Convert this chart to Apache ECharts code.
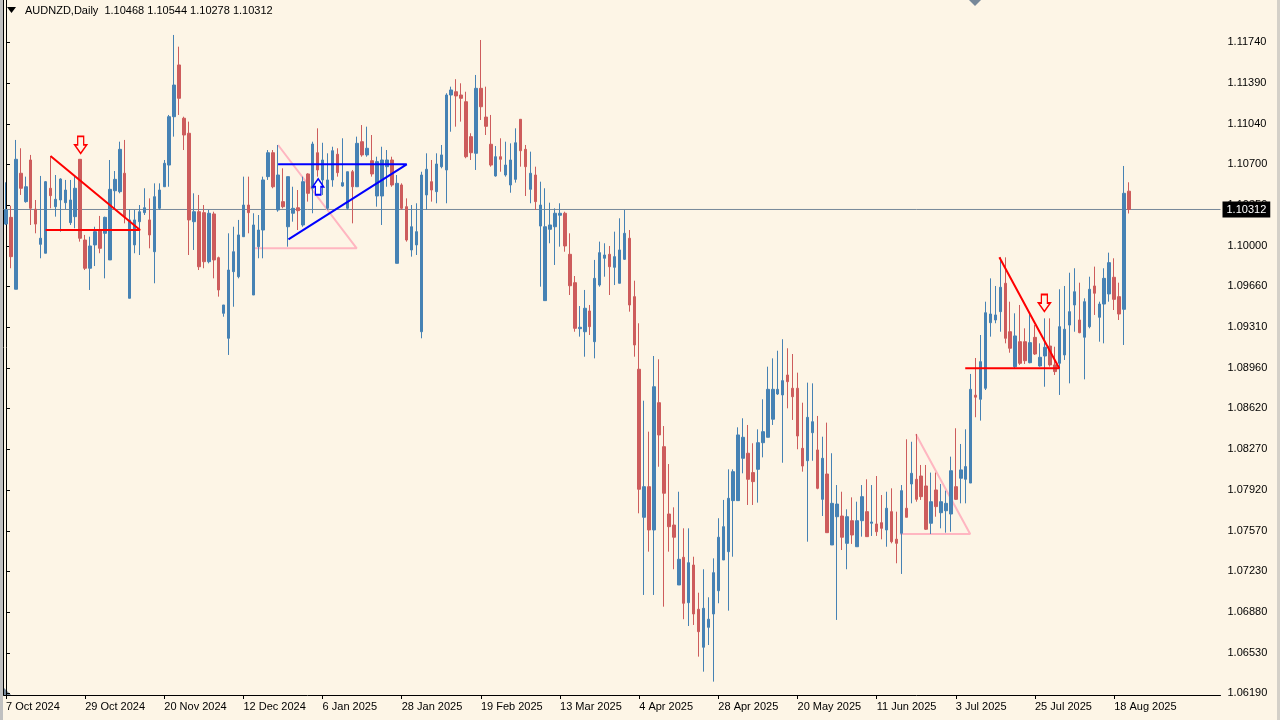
<!DOCTYPE html>
<html><head><meta charset="utf-8">
<script src="https://cdn.jsdelivr.net/npm/echarts@6/dist/echarts.min.js"></script>
<style>html,body{margin:0;padding:0;background:#FDF5E6;overflow:hidden}#c{width:1280px;height:720px}</style>
</head><body><div id="c"></div>
<script>
// ---------- DATA ----------
const startDate = '2024-10-07';
const holidays = ['2024-12-25'];
const emptySlots = 18; // chart shift area on the right

const open = [
1.10188,1.10245,1.09632,1.10621,1.10379,1.10734,1.10314,1.10015,1.09939,1.10493,
1.10336,1.10393,1.10370,1.10200,1.10251,1.10740,1.10052,1.09811,1.10010,1.10137,
1.10109,1.09882,1.10472,1.10464,1.10621,1.09555,1.10010,1.10208,1.10285,1.10223,
1.09952,1.10322,1.10506,1.10691,1.11103,1.11544,1.11090,1.10962,1.10208,1.10293,
1.10285,1.09867,1.10274,1.09901,1.09427,1.09214,1.09782,1.09739,1.10080,1.10350,
1.09583,1.09995,1.10137,1.10592,1.10796,1.10308,1.10379,1.10165,1.10280,1.10327,
1.10180,1.10615,1.10493,1.10796,1.10564,1.10322,1.10564,1.10783,1.10512,1.10322,
1.10634,1.10506,1.10890,1.10777,1.10728,1.10427,1.10427,1.10677,1.10734,1.09853,
1.10521,1.10336,1.09967,1.10010,1.09270,1.10436,1.10549,1.10464,1.10677,1.10649,
1.11288,1.11316,1.11288,1.11231,1.10933,1.10791,1.11345,1.11100,1.10868,1.10598,
1.10762,1.10606,1.10521,1.10569,1.11081,1.10825,1.10484,1.10606,1.10171,1.09535,
1.10143,1.10165,1.10263,1.10280,1.09930,1.09688,1.09296,1.09270,1.09447,1.09185,
1.09668,1.09896,1.09930,1.09819,1.09683,1.09887,1.10067,1.09569,1.08950,1.07688,
1.07949,1.07580,1.08665,1.08290,1.07716,1.07622,1.07111,1.07347,1.06960,1.07281,
1.06904,1.06580,1.06750,1.06864,1.07062,1.07324,1.07395,1.07830,1.07830,1.08191,
1.08234,1.08069,1.08097,1.08324,1.08370,1.08524,1.08739,1.08731,1.08901,1.08788,
1.08788,1.08276,1.08170,1.08409,1.08262,1.07841,1.08057,1.07452,1.07693,1.07699,
1.07466,1.07659,1.07437,1.07659,1.07736,1.07637,1.07631,1.07642,1.07580,1.07736,
1.07501,1.07552,1.07765,1.07972,1.08012,1.08040,1.07955,1.07637,1.07921,1.07727,
1.07744,1.07716,1.07949,1.08021,1.08012,1.07980,1.08729,1.08694,1.08788,1.09347,
1.09370,1.09441,1.09683,1.09270,1.08972,1.09185,1.09185,1.09006,1.09222,1.08978,
1.09063,1.09148,1.08987,1.09001,1.09072,1.09327,1.09498,1.09370,1.09223,1.09313,
1.09660,1.09393,1.09506,1.09592,1.09734,1.09569,1.09461,1.10468
];
const high = [
1.10544,1.10344,1.10905,1.10834,1.10592,1.10777,1.10393,1.10598,1.10555,1.10768,
1.10606,1.10578,1.10564,1.10564,1.10606,1.10740,1.10095,1.10080,1.10165,1.10257,
1.10251,1.10734,1.10640,1.10890,1.10905,1.10314,1.10308,1.10350,1.10493,1.10407,
1.10535,1.10535,1.10734,1.11118,1.11800,1.11700,1.11103,1.11061,1.10450,1.10436,
1.10350,1.10308,1.10293,1.09910,1.09498,1.10109,1.10165,1.10223,1.10592,1.10592,
1.10280,1.10265,1.10592,1.10819,1.10819,1.10862,1.10663,1.10592,1.10506,1.10478,
1.10592,1.10621,1.10890,1.11004,1.10881,1.10791,1.10847,1.10834,1.10919,1.10634,
1.10649,1.10933,1.11032,1.11018,1.10947,1.10762,1.10847,1.10819,1.10762,1.10606,
1.10535,1.10407,1.10350,1.10365,1.10634,1.10791,1.10734,1.10791,1.10862,1.11303,
1.11359,1.11423,1.11388,1.11316,1.10962,1.11459,1.11757,1.11359,1.11118,1.10853,
1.10919,1.10890,1.10876,1.11004,1.11081,1.10862,1.10805,1.10677,1.10549,1.10493,
1.10370,1.10322,1.10365,1.10293,1.10109,1.09745,1.09489,1.09626,1.09498,1.09882,
1.10038,1.10024,1.10001,1.10123,1.10237,1.10308,1.10137,1.09705,1.09342,1.08682,
1.08418,1.09063,1.09035,1.08466,1.08142,1.07773,1.07906,1.07594,1.07594,1.07352,
1.07045,1.07245,1.07006,1.07338,1.07680,1.07836,1.08097,1.08097,1.08455,1.08532,
1.08475,1.08319,1.08438,1.08694,1.08972,1.09043,1.09108,1.09206,1.09129,1.09080,
1.08921,1.08665,1.08836,1.08830,1.08552,1.08375,1.08495,1.08234,1.07963,1.07906,
1.07756,1.07858,1.07821,1.07963,1.08012,1.07963,1.08040,1.07878,1.07906,1.07935,
1.07736,1.07963,1.08353,1.08332,1.08398,1.08134,1.08134,1.08069,1.08069,1.07972,
1.07915,1.08205,1.08447,1.08313,1.08438,1.08910,1.09046,1.09242,1.09526,1.09725,
1.09660,1.09904,1.09904,1.09526,1.09427,1.09498,1.09299,1.09427,1.09327,1.09171,
1.09384,1.09384,1.09142,1.09632,1.09660,1.09773,1.09811,1.09688,1.09555,1.09739,
1.09825,1.09526,1.09811,1.09944,1.09896,1.09688,1.10683,1.10544
];
const low = [
1.10180,1.09811,1.09632,1.10436,1.10370,1.10180,1.10109,1.09896,1.09939,1.10322,
1.10251,1.10123,1.10316,1.10180,1.10152,1.10038,1.09796,1.09626,1.09830,1.09939,
1.09725,1.09882,1.10322,1.10450,1.10194,1.09555,1.09939,1.09924,1.10265,1.09981,
1.09683,1.10308,1.10506,1.10506,1.10933,1.11118,1.10819,1.09924,1.09967,1.09796,
1.09811,1.09853,1.09725,1.09569,1.09398,1.09072,1.09483,1.09725,1.10080,1.10109,
1.09583,1.09896,1.09896,1.10564,1.10493,1.10293,1.10322,1.09995,1.10208,1.10137,
1.10165,1.10379,1.10280,1.10592,1.10436,1.10308,1.10506,1.10592,1.10506,1.10308,
1.10194,1.10506,1.10762,1.10762,1.10592,1.10336,1.10180,1.10506,1.10506,1.09853,
1.10308,1.10038,1.09910,1.09924,1.09214,1.10308,1.10379,1.10365,1.10663,1.10365,
1.10975,1.11018,1.11061,1.10749,1.10734,1.10649,1.11075,1.10947,1.10677,1.10592,
1.10634,1.10592,1.10455,1.10541,1.10677,1.10427,1.10365,1.10308,1.09654,1.09535,
1.10024,1.09839,1.09995,1.09952,1.09583,1.09270,1.09228,1.09057,1.09242,1.09043,
1.09654,1.09739,1.09583,1.09668,1.09683,1.09882,1.09441,1.09057,1.07722,1.07026,
1.07395,1.07026,1.08119,1.06926,1.07395,1.07245,1.07111,1.06819,1.06761,1.06770,
1.06500,1.06372,1.06599,1.06287,1.06955,1.07324,1.06892,1.07352,1.07830,1.08063,
1.07793,1.07793,1.07813,1.08199,1.08370,1.08475,1.08731,1.08153,1.08617,1.08518,
1.08268,1.08077,1.07480,1.08170,1.07927,1.07699,1.07557,1.07452,1.06813,1.07409,
1.07245,1.07461,1.07437,1.07523,1.07523,1.07529,1.07529,1.07500,1.07437,1.07466,
1.07296,1.07205,1.07688,1.07807,1.07821,1.07836,1.07580,1.07546,1.07693,1.07594,
1.07557,1.07565,1.07836,1.07807,1.07807,1.07980,1.08541,1.08512,1.08773,1.09228,
1.09342,1.09270,1.09171,1.09091,1.08958,1.08987,1.08995,1.09001,1.09072,1.08972,
1.08801,1.08972,1.08901,1.08731,1.09029,1.08830,1.09270,1.09257,1.08864,1.09299,
1.09413,1.09185,1.09171,1.09526,1.09455,1.09370,1.09157,1.10278
];
const close = [
1.10308,1.09910,1.10740,1.10493,1.10506,1.10322,1.10188,1.10067,1.10549,1.10430,
1.10399,1.10572,1.10478,1.10393,1.10493,1.10067,1.09811,1.10001,1.10123,1.09981,
1.10245,1.10484,1.10569,1.10825,1.10251,1.10223,1.10223,1.10293,1.10327,1.10095,
1.10421,1.10478,1.10706,1.11103,1.11373,1.11260,1.10947,1.10223,1.10293,1.09824,
1.09867,1.10280,1.09882,1.09626,1.09498,1.09796,1.09952,1.10095,1.10350,1.10285,
1.10180,1.10137,1.10564,1.10796,1.10506,1.10606,1.10336,1.10592,1.10322,1.10302,
1.10549,1.10450,1.10870,1.10649,1.10734,1.10564,1.10813,1.10626,1.10541,1.10634,
1.10506,1.10876,1.10777,1.10834,1.10615,1.10720,1.10734,1.10734,1.10521,1.10535,
1.10322,1.10052,1.10165,1.10123,1.10606,1.10655,1.10478,1.10700,1.10777,1.11288,
1.11331,1.11280,1.11260,1.10762,1.10796,1.11345,1.11188,1.11021,1.10691,1.10762,
1.10740,1.10691,1.10734,1.10881,1.10813,1.10677,1.10621,1.10379,1.10350,1.10165,
1.10180,1.10280,1.10280,1.10001,1.09662,1.09299,1.09308,1.09470,1.09313,1.09725,
1.09944,1.09924,1.09824,1.09910,1.09967,1.10109,1.09498,1.09157,1.07927,1.07949,
1.07580,1.08801,1.08390,1.07893,1.07608,1.07518,1.07330,1.06955,1.07301,1.06864,
1.06713,1.06912,1.06819,1.07216,1.07518,1.07608,1.07850,1.08077,1.08390,1.08370,
1.08012,1.07992,1.08324,1.08418,1.08779,1.08779,1.08779,1.08853,1.08844,1.08716,
1.08381,1.08125,1.08540,1.08503,1.07935,1.08191,1.07557,1.07807,1.07801,1.07518,
1.07693,1.07537,1.07659,1.07864,1.07523,1.07648,1.07565,1.07594,1.07765,1.07480,
1.07466,1.07915,1.07688,1.08063,1.07841,1.07864,1.07586,1.07821,1.07779,1.07821,
1.07807,1.08085,1.07841,1.08092,1.08120,1.08779,1.08712,1.09015,1.09432,1.09421,
1.09413,1.09649,1.09214,1.09129,1.09234,1.09001,1.09023,1.09177,1.09080,1.09052,
1.09137,1.08987,1.08930,1.09313,1.09291,1.09441,1.09611,1.09262,1.09526,1.09632,
1.09598,1.09506,1.09725,1.09859,1.09546,1.09421,1.10450,1.10312
];

const yTickLabels = ['1.06190','1.06530','1.06880','1.07230','1.07570','1.07920','1.08270','1.08620',
  '1.08960','1.09310','1.09660','1.10000','1.10350','1.10700','1.11040','1.11390','1.11740'];
const priceMin = 1.06173, priceMax = 1.12098;
const lastPrice = 1.10312;
const headerText = 'AUDNZD,Daily  1.10468 1.10544 1.10278 1.10312';

// drawn objects: [bar index, price]
const redTriangle1 = [[9.0, 1.10768], [27.1, 1.10137], [8.0, 1.10137]];
const pinkTriangle1 = [[55.0, 1.10862], [70.9, 1.09981], [50.0, 1.09981]];
const blueTriangle = [[55.0, 1.10697], [81.0, 1.10697], [57.1, 1.10058]];
const pinkTriangle2 = [[183.9, 1.08398], [194.9, 1.07546], [180.7, 1.07546]];
const redTriangle2 = [[200.8, 1.09905], [212.9, 1.08958], [193.9, 1.08958]];
const redDownArrows = [[15.1, 1.10862], [209.9, 1.09515]];
const blueUpArrows = [[63.1, 1.10506]];

// ---------- BUILD ----------
const MONTHS = ['Jan','Feb','Mar','Apr','May','Jun','Jul','Aug','Sep','Oct','Nov','Dec'];
const categories = [];
(function () {
  let d = new Date(startDate + 'T00:00:00Z');
  while (categories.length < open.length) {
    const dow = d.getUTCDay();
    const iso = d.toISOString().slice(0, 10);
    if (dow !== 0 && dow !== 6 && holidays.indexOf(iso) < 0) {
      categories.push(d.getUTCDate() + ' ' + MONTHS[d.getUTCMonth()] + ' ' + d.getUTCFullYear());
    }
    d = new Date(d.getTime() + 86400000);
  }
  for (let k = 0; k < emptySlots; k++) categories.push('');
})();
const nSlots = categories.length;
const candles = open.map((o, i) => [o, close[i], low[i], high[i]]);
const yTickValues = yTickLabels.map(Number);
const priceLine = [[-0.5, lastPrice], [nSlots - 0.5, lastPrice]];

const FONT = '"Liberation Sans", Arial, sans-serif';
const BG = '#FDF5E6';
const BULL = '#4682B4', BEAR = '#CD5C5C';
const showLabel = (idx, val) => idx % 16 === 0 && val !== '';

const downPath = 'path://M3,0 L9,0 L9,9 L12,9 L6,18 L0,9 L3,9 Z';
const upPath = 'path://M6,0 L12,9 L9,9 L9,18 L3,18 L3,9 L0,9 Z';

function lineSeries(data, color, width, z) {
  return { type: 'line', xAxisIndex: 1, data: data, symbol: 'none', silent: true,
    lineStyle: { color: color, width: width }, z: z, animation: false };
}

const chart = echarts.init(document.getElementById('c'), null, { renderer: 'canvas' });
chart.setOption({
  backgroundColor: BG,
  animation: false,
  grid: { left: 3.5, right: 59.5, top: 0, bottom: 25, containLabel: false, outerBoundsMode: 'none' },
  xAxis: [{
    type: 'category', data: categories, boundaryGap: true,
    axisLine: { show: true, lineStyle: { color: '#000', width: 1 } },
    axisTick: { show: true, alignWithLabel: true, interval: showLabel, length: 4, lineStyle: { color: '#000' } },
    axisLabel: { show: true, interval: showLabel, align: 'left', color: '#000', fontSize: 11, fontFamily: FONT, margin: 6 },
    splitLine: { show: false }
  }, {
    type: 'value', min: -0.5, max: nSlots - 0.5, show: false
  }],
  yAxis: {
    type: 'value', position: 'right', min: priceMin, max: priceMax, scale: true,
    axisLine: { show: true, lineStyle: { color: '#000', width: 1 } },
    axisTick: { show: true, length: 4, lineStyle: { color: '#000' }, customValues: yTickValues },
    axisLabel: { show: true, customValues: yTickValues, formatter: v => v.toFixed(5),
      color: '#000', fontSize: 11, fontFamily: FONT, margin: 7 },
    splitLine: { show: false }
  },
  series: [
  { type: 'line', xAxisIndex: 1, data: priceLine, symbol: 'none', silent: true, z: 1, animation: false,
    lineStyle: { color: '#778899', width: 1 },
    endLabel: { show: true, formatter: lastPrice.toFixed(5), distance: 2, backgroundColor: '#000', color: '#fff',
      padding: [3, 4, 2, 4], fontSize: 11, fontFamily: FONT } },
  lineSeries(pinkTriangle1, '#FFB6C1', 2, 2),
  lineSeries(pinkTriangle2, '#FFB6C1', 2, 2),
  {
    type: 'candlestick', data: candles, barWidth: 3, z: 3,
    itemStyle: { color: BULL, color0: BEAR, borderColor: BULL, borderColor0: BEAR, borderColorDoji: BULL, borderWidth: 1 }
  },
  lineSeries(redTriangle1, '#FF0000', 2, 5),
  lineSeries(blueTriangle, '#0000FF', 2, 5),
  lineSeries(redTriangle2, '#FF0000', 2, 5),
  { type: 'scatter', xAxisIndex: 1, data: redDownArrows, symbol: downPath, symbolSize: [12, 17], silent: true, z: 6,
    itemStyle: { color: BG, borderColor: '#FF0000', borderWidth: 1.5, opacity: 1 } },
  { type: 'scatter', xAxisIndex: 1, data: blueUpArrows, symbol: upPath, symbolSize: [11, 16], silent: true, z: 6,
    itemStyle: { color: '#FFFFFF', borderColor: '#0000FF', borderWidth: 1.5, opacity: 1 } }
  ],
  graphic: [
    { type: 'rect', shape: { x: 0, y: 0, width: 3, height: 720 }, style: { fill: '#c0c0c0' }, silent: true },
    { type: 'line', shape: { x1: 3.5, y1: 0, x2: 3.5, y2: 695 }, style: { stroke: '#000', lineWidth: 1 }, silent: true },
    { type: 'rect', shape: { x: 1277, y: 0, width: 3, height: 720 }, style: { fill: '#d4d0c8' }, silent: true },
    { type: 'polygon', shape: { points: [[7, 7], [16, 7], [11.5, 13]] }, style: { fill: '#000' }, silent: true },
    { type: 'text', x: 25, y: 5, style: { text: headerText, fill: '#000', font: '11px ' + FONT }, silent: true },
    { type: 'polygon', shape: { points: [[969, 0], [981, 0], [975, 6]] }, style: { fill: '#778899' }, silent: true },
    { type: 'polygon', shape: { points: [[4, 688], [4, 695], [11, 695]] }, style: { fill: '#778899' }, silent: true }
  ]
});
</script></body></html>
